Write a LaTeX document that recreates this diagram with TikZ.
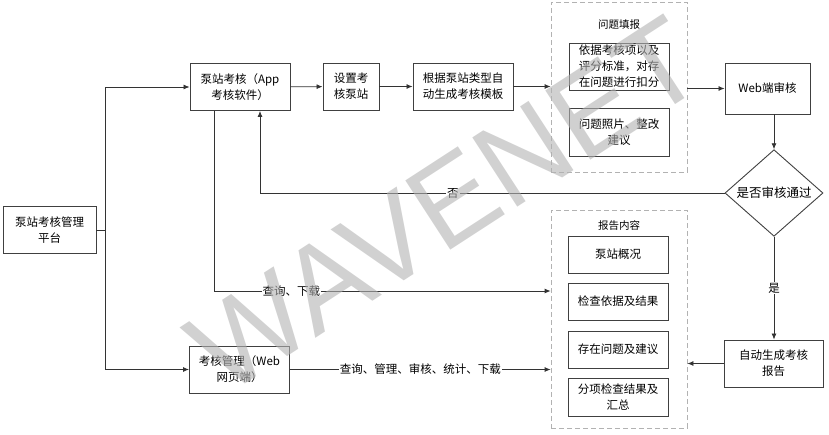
\documentclass[tikz,border=0pt]{standalone}
\usepackage{fontspec}
\setmainfont{Liberation Sans}
\newfontfamily\cjk{Noto Sans CJK SC}
\usetikzlibrary{arrows.meta, positioning, shapes.geometric, fit, backgrounds}
\tikzset{
    flowbox/.style={rectangle, draw=black!75, line width=0.9pt, fill=white, minimum width=#1, minimum height=47pt, align=center, inner sep=1pt, font=\cjk\fontsize{11.5}{16}\selectfont},
    rptbox/.style={flowbox=100pt, minimum height=37pt},
    checkbox/.style={diamond, draw=black!75, line width=0.9pt, fill=white, minimum width=98pt, minimum height=74pt, inner sep=0pt, font=\cjk\fontsize{12.5}{16}\selectfont},
    groupbox/.style={rectangle, draw=black!30, dashed, line width=0.8pt, dash pattern=on 5pt off 3pt},
    grouptitle/.style={font=\cjk\fontsize{10.5}{12}\selectfont, inner sep=1pt},
    flowline/.style={draw=black!80, line width=0.8pt},
    flowarrow/.style={flowline, -{Latex[length=6pt, width=5pt]}},
    flowlabel/.style={fill=white, inner sep=1pt, font=\cjk\fontsize{11.5}{14}\selectfont},
    watermark/.style={font=\fontsize{120}{120}\selectfont, text=black!30, opacity=0.6, rotate=33, inner sep=0pt}
}

\begin{document}
\begin{tikzpicture}[x=1pt, y=-1pt]
\useasboundingbox (0,0) rectangle (829,434);

% left side
\node[flowbox=93pt] (plat) at (49.5,230) {泵站考核管理\\平台};
\node[flowbox=100pt] (app) at (240,87) {泵站考核（App\\考核软件）};
\node[flowbox=100pt] (mgmt) at (239.5,369.5) {考核管理（Web\\网页端）};

% top row
\node[flowbox=56pt] (setst) at (351,86.5) {设置考\\核泵站};
\node[flowbox=100pt] (tmpl) at (463,86.5) {根据泵站类型自\\动生成考核模板};

% problem report group
\node[groupbox, minimum width=136pt, minimum height=170pt] (probgrp) at (619,87) {};
\node[grouptitle] (probtitle) at (619,25) {问题填报};
\node[flowbox=100pt] (probA) at (619,66.5) {依据考核项以及\\评分标准，对存\\在问题进行扣分};
\node[flowbox=100pt, minimum height=48pt] (probB) at (619,132) {问题照片、整改\\建议};

% review
\node[flowbox=85pt, minimum height=51pt] (web) at (767.5,88.5) {Web端审核};
\node[checkbox] (chk) at (774,193) {是否审核通过};
\node[flowbox=99pt] (auto) at (773.5,363.5) {自动生成考核\\报告};

% report content group
\node[groupbox, minimum width=136pt, minimum height=218pt] (rptgrp) at (619,319) {};
\node[grouptitle] (rpttitle) at (619,226) {报告内容};
\node[rptbox] (rptA) at (618,254.5) {泵站概况};
\node[rptbox] (rptB) at (618,301.5) {检查依据及结果};
\node[rptbox] (rptC) at (618,349.5) {存在问题及建议};
\node[rptbox, minimum height=38pt] (rptD) at (618,397) {分项检查结果及\\汇总};

\coordinate (jn) at (105,230);
\coordinate (nox) at (260,193);
\coordinate (qx) at (214,291);

\draw[flowline] (plat.east) -- (jn);
\draw[flowarrow] (jn) |- (app.west);
\draw[flowarrow] (jn) |- (mgmt.west);

\draw[flowarrow] (app) -- (setst);
\draw[flowarrow] (setst) -- (tmpl);
\draw[flowarrow] (tmpl) -- (tmpl -| probgrp.west);
\draw[flowarrow] (probgrp.east |- web) -- (web);
\draw[flowarrow] (chk.north |- web.south) -- (chk.north);

\draw[flowarrow] (chk.west) -- node[flowlabel, pos=0.585] {否} (nox) -- (nox |- app.south);
\draw[flowarrow] (chk.south) -- node[flowlabel] {是} (chk.south |- auto.north);
\draw[flowarrow] (auto.west) -- (auto.west -| rptgrp.east);

\draw[flowarrow] (qx |- app.south) -- (qx) -- node[flowlabel, pos=0.23] {查询、下载} (qx -| rptgrp.west);
\draw[flowarrow] (mgmt.east) -- node[flowlabel] {查询、管理、审核、统计、下载} (mgmt.east -| rptgrp.west);

% watermark
\node[watermark] (wmark) at (445,205) {WAVENET};

\end{tikzpicture}
\end{document}
